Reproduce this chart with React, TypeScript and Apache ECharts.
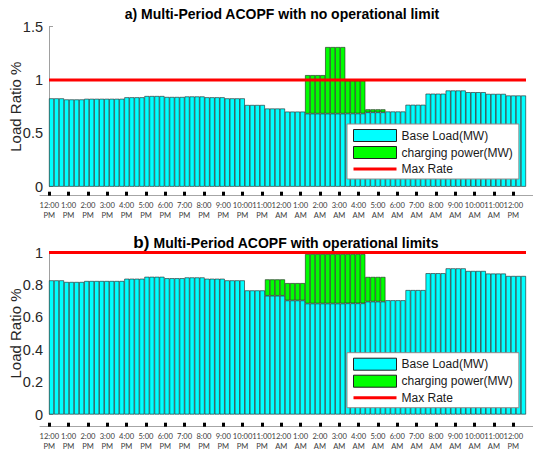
import React, { useEffect, useRef } from "react";
import * as echarts from "echarts";

// Hour tick labels along the time axis (noon to noon)
const hourTickLabels = [
  "12:00\nPM", "1:00\nPM", "2:00\nPM", "3:00\nPM", "4:00\nPM", "5:00\nPM",
  "6:00\nPM", "7:00\nPM", "8:00\nPM", "9:00\nPM", "10:00\nPM", "11:00\nPM",
  "12:00\nAM", "1:00\nAM", "2:00\nAM", "3:00\nAM", "4:00\nAM", "5:00\nAM",
  "6:00\nAM", "7:00\nAM", "8:00\nAM", "9:00\nAM", "10:00\nAM", "11:00\nAM",
  "12:00\nPM",
];

// Number of 15-minute slots recorded in each hour
const slotsPerHour = [3, 4, 4, 4, 4, 4, 4, 4, 4, 4, 4, 4, 4, 4, 4, 4, 4, 4, 4, 4, 4, 4, 4, 4];

// Hourly base load ratio
const baseLoad = [
  0.828, 0.818, 0.824, 0.824, 0.838, 0.85, 0.841, 0.846, 0.838, 0.828, 0.766, 0.733,
  0.704, 0.685, 0.685, 0.686, 0.697, 0.705, 0.768, 0.872, 0.902, 0.886, 0.87, 0.855,
];

// Hourly EV charging share, case a) (no operational limit)
const chargingNoLimit = [
  0, 0, 0, 0, 0, 0, 0, 0, 0, 0, 0, 0,
  0, 0.361, 0.624, 0.31, 0.028, 0, 0, 0, 0, 0, 0, 0,
];

// Hourly EV charging share, case b) (with operational limits)
const chargingWithLimit = [
  0, 0, 0, 0, 0, 0, 0, 0, 0, 0, 0, 0.101,
  0.107, 0.305, 0.305, 0.304, 0.152, 0, 0, 0, 0, 0, 0, 0,
];

const maxRate = 1;

const FONT = "'Liberation Sans', Arial, Helvetica, sans-serif";
const TICK_FONT = "Lato, 'Liberation Sans', sans-serif";

function toSlots(hourly: number[], dropZero: boolean): (number | null)[] {
  const out: (number | null)[] = [];
  hourly.forEach((v, h) => {
    for (let q = 0; q < slotsPerHour[h]; q++) out.push(dropZero && v === 0 ? null : v);
  });
  return out;
}

const slotCategories: string[] = [];
slotsPerHour.forEach((n, h) => {
  for (let q = 0; q < n; q++) slotCategories.push(`${h}-${q}`);
});

const hourValues = hourTickLabels.map((_, i) => i);

function timeAxis(gridIndex: number) {
  return {
    type: "value",
    gridIndex,
    min: -0.48,
    max: 25.02,
    axisLine: { show: true, lineStyle: { color: "#a6a6a6", width: 1 } },
    axisTick: {
      show: true,
      inside: true,
      length: 4,
      customValues: hourValues,
      lineStyle: { color: "#000", width: 3 },
    },
    axisLabel: {
      show: true,
      customValues: hourValues,
      showMinLabel: true,
      showMaxLabel: true,
      hideOverlap: false,
      formatter: (v: number) => hourTickLabels[Math.round(v)] ?? "",
      fontFamily: TICK_FONT,
      fontSize: 7.6,
      lineHeight: 10,
      color: "#404040",
      margin: 4,
    },
    splitLine: { show: false },
  };
}

function barAxis(gridIndex: number) {
  return {
    type: "category",
    gridIndex,
    data: slotCategories,
    boundaryGap: true,
    axisLine: { show: false },
    axisTick: { show: false },
    axisLabel: { show: false },
    splitLine: { show: false },
  };
}

function rateAxis(gridIndex: number) {
  return { type: "value", gridIndex, min: 0, max: 1, show: false };
}

function loadAxis(gridIndex: number, max: number, interval: number) {
  return {
    type: "value",
    gridIndex,
    min: 0,
    max,
    interval,
    name: "Load Ratio %",
    nameLocation: "middle",
    nameGap: 26,
    nameMoveOverlap: false,
    nameTextStyle: { fontSize: 15, color: "#262626", fontFamily: FONT },
    axisLine: { show: true, lineStyle: { color: "#a0a0a0", width: 1 } },
    axisTick: { show: true, inside: true, length: 4, lineStyle: { color: "#a0a0a0" } },
    axisLabel: { fontSize: 14.5, color: "#262626", margin: 6, fontFamily: FONT },
    splitLine: { show: false },
  };
}

const barBorder = { borderColor: "#1f1f1f", borderWidth: 0.6 };

function panelSeries(xBar: number, xRate: number, y: number, charging: number[], stack: string) {
  return [
    {
      name: "Base Load(MW)",
      type: "bar",
      xAxisIndex: xBar,
      yAxisIndex: y,
      stack,
      barCategoryGap: "0%",
      data: toSlots(baseLoad, false),
      itemStyle: { color: "#00ffff", ...barBorder },
    },
    {
      name: "charging power(MW)",
      type: "bar",
      xAxisIndex: xBar,
      yAxisIndex: y,
      stack,
      barCategoryGap: "0%",
      data: toSlots(charging, true),
      itemStyle: { color: "#00ff00", ...barBorder },
    },
    {
      name: "Max Rate",
      type: "line",
      xAxisIndex: xRate,
      yAxisIndex: y,
      symbol: "none",
      z: 4,
      data: [[0, maxRate], [1, maxRate]],
      lineStyle: { color: "#ff0000", width: 3 },
      itemStyle: { color: "#ff0000" },
    },
  ];
}

function legendBox(top: number) {
  return {
    orient: "vertical",
    left: 347,
    top,
    padding: [5, 6, 4, 5],
    itemGap: 4,
    itemWidth: 43,
    itemHeight: 12,
    backgroundColor: "#ffffff",
    borderColor: "#8c8c8c",
    borderWidth: 1,
    borderRadius: 0,
    selectedMode: false,
    data: [
      { name: "Base Load(MW)", icon: "rect" },
      { name: "charging power(MW)", icon: "rect" },
      { name: "Max Rate", itemStyle: { opacity: 0 } },
    ],
    itemStyle: { borderColor: "#1f1f1f", borderWidth: 1 },
    lineStyle: { width: 3 },
    textStyle: { fontSize: 12, color: "#1a1a1a", fontFamily: FONT },
  };
}

const gridBase = { outerBoundsMode: "none", containLabel: false };

export default function App() {
  const ref = useRef<HTMLDivElement>(null);

  useEffect(() => {
    if (!ref.current) return;
    const chart = echarts.init(ref.current, null, { renderer: "svg" });
    chart.setOption({
      animation: false,
      backgroundColor: "#ffffff",
      textStyle: { fontFamily: FONT },
      title: [
        {
          text: "a) Multi-Period ACOPF with no operational limit",
          left: 282,
          top: 7,
          textAlign: "center",
          padding: 0,
          textStyle: { fontSize: 14, fontWeight: "bold", color: "#000", fontFamily: FONT },
        },
        {
          text: "{b|b)} Multi-Period ACOPF with operational limits",
          left: 286,
          top: 234,
          textAlign: "center",
          padding: 0,
          textStyle: {
            fontSize: 14,
            fontWeight: "bold",
            color: "#000",
            fontFamily: FONT,
            rich: { b: { fontSize: 17, fontWeight: "bold", color: "#000", fontFamily: FONT } },
          },
        },
      ],
      grid: [
        { ...gridBase, left: 49, right: 7, top: 26.7, height: 160 },
        { ...gridBase, left: 40, right: 0, top: 190, height: 5.7 },
        { ...gridBase, left: 49, right: 7, top: 252.5, height: 162 },
        { ...gridBase, left: 40, right: 0, top: 421, height: 5.7 },
      ],
      xAxis: [barAxis(0), rateAxis(0), timeAxis(1), barAxis(2), rateAxis(2), timeAxis(3)],
      yAxis: [
        loadAxis(0, 1.5, 0.5),
        { type: "value", gridIndex: 1, show: false },
        loadAxis(2, 1, 0.2),
        { type: "value", gridIndex: 3, show: false },
      ],
      legend: [legendBox(124), legendBox(352.7)],
      series: [
        ...panelSeries(0, 1, 0, chargingNoLimit, "caseA"),
        ...panelSeries(3, 4, 2, chargingWithLimit, "caseB"),
      ],
    });
    return () => chart.dispose();
  }, []);

  return <div ref={ref} style={{ width: 533, height: 455, position: "absolute", left: 0, top: 0 }} />;
}
